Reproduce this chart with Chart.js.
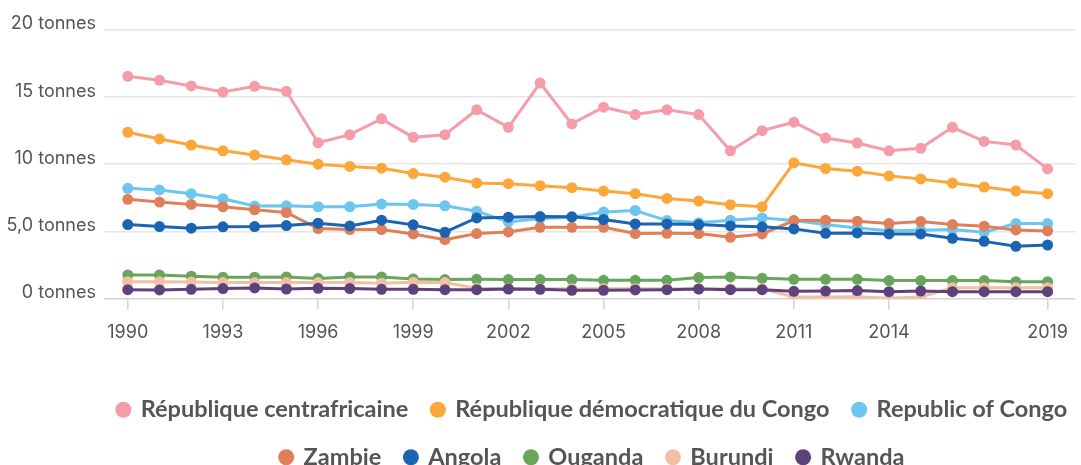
<!DOCTYPE html>
<html>
<head>
<meta charset="utf-8">
<script src="https://cdn.jsdelivr.net/npm/chart.js@4"></script>
<style>
  html, body { margin: 0; padding: 0; overflow: hidden; background: #fff; }
  #wrap { width: 1081px; height: 479px; }
</style>
</head>
<body>
<div id="wrap"><canvas id="chart"></canvas></div>
<script>
// years on the x axis
const years = [1990, 1991, 1992, 1993, 1994, 1995, 1996, 1997, 1998, 1999,
               2000, 2001, 2002, 2003, 2004, 2005, 2006, 2007, 2008, 2009,
               2010, 2011, 2012, 2013, 2014, 2015, 2016, 2017, 2018, 2019];
const xTickYears = [1990, 1993, 1996, 1999, 2002, 2005, 2008, 2011, 2014, 2019];
const yTickLabels = { 0: '0 tonnes', 5: '5,0 tonnes', 10: '10 tonnes', 15: '15 tonnes', 20: '20 tonnes' };

const countryNames = ['République centrafricaine', 'République démocratique du Congo', 'Republic of Congo',
                      'Zambie', 'Angola', 'Ouganda', 'Burundi', 'Rwanda'];
const countryColors = ['#F59CA9', '#FCA73B', '#6CC6F0', '#E0805A', '#1B63B3', '#69A55B', '#F1C0A4', '#5F427C'];

// tonnes per year
const centrafrique = [16.55, 16.25, 15.83, 15.38, 15.8, 15.43, 11.6, 12.2, 13.38, 12.0,
                      12.2, 14.05, 12.75, 16.05, 13.0, 14.25, 13.7, 14.05, 13.7, 11.0,
                      12.5, 13.13, 11.95, 11.58, 11.0, 11.18, 12.75, 11.7, 11.43, 9.65];
const rdc = [12.38, 11.88, 11.43, 11.0, 10.68, 10.33, 10.0, 9.83, 9.7, 9.3,
             9.03, 8.6, 8.55, 8.4, 8.25, 8.0, 7.8, 7.45, 7.25, 6.98,
             6.83, 10.1, 9.68, 9.48, 9.13, 8.9, 8.6, 8.3, 8.0, 7.8];
const congo = [8.2, 8.08, 7.8, 7.43, 6.88, 6.9, 6.83, 6.83, 7.03, 7.0,
               6.9, 6.5, 5.7, 5.95, 6.05, 6.43, 6.55, 5.8, 5.63, 5.83,
               6.0, 5.8, 5.5, 5.25, 5.05, 5.08, 5.13, 4.93, 5.58, 5.58];
const zambie = [7.38, 7.18, 7.0, 6.83, 6.6, 6.4, 5.2, 5.13, 5.13, 4.8,
                4.38, 4.83, 4.95, 5.3, 5.3, 5.3, 4.83, 4.85, 4.83, 4.55,
                4.8, 5.8, 5.83, 5.75, 5.58, 5.73, 5.5, 5.38, 5.1, 5.03];
const angola = [5.5, 5.35, 5.23, 5.33, 5.35, 5.43, 5.6, 5.4, 5.83, 5.48,
                4.93, 6.0, 6.05, 6.1, 6.08, 5.88, 5.55, 5.55, 5.5, 5.4,
                5.33, 5.18, 4.85, 4.88, 4.8, 4.8, 4.48, 4.25, 3.88, 3.98];
const ouganda = [1.75, 1.75, 1.65, 1.58, 1.58, 1.6, 1.48, 1.6, 1.6, 1.45,
                 1.4, 1.42, 1.4, 1.4, 1.4, 1.35, 1.35, 1.35, 1.55, 1.6,
                 1.5, 1.42, 1.42, 1.42, 1.33, 1.33, 1.33, 1.33, 1.25, 1.25];
const burundi = [1.25, 1.25, 1.22, 1.18, 1.18, 1.18, 1.18, 1.18, 1.13, 1.2,
                 1.18, 0.75, 0.72, 0.72, 0.72, 0.72, 0.72, 0.72, 0.72, 0.72,
                 0.72, 0.1, 0.1, 0.12, 0.02, 0.1, 0.8, 0.8, 0.8, 0.8];
const rwanda = [0.65, 0.63, 0.68, 0.73, 0.78, 0.7, 0.75, 0.73, 0.68, 0.68,
                0.65, 0.65, 0.7, 0.68, 0.6, 0.6, 0.63, 0.65, 0.7, 0.65,
                0.65, 0.53, 0.55, 0.58, 0.5, 0.55, 0.5, 0.5, 0.5, 0.5];

const allSeries = [centrafrique, rdc, congo, zambie, angola, ouganda, burundi, rwanda];

const datasets = allSeries.map((values, i) => ({
    label: countryNames[i],
    data: values.map((v, j) => ({ x: years[j], y: v })),
    borderColor: countryColors[i],
    backgroundColor: countryColors[i],
    pointBackgroundColor: countryColors[i],
    pointBorderWidth: 0,
    pointRadius: 5.5,
    borderWidth: 3,
    tension: 0,
    order: -i // later countries drawn on top
}));

// the legend sits a bit right of centre in the original
const legendShift = {
    id: 'legendShift',
    afterLayout(chart) {
        chart.legend.left += 52;
        chart.legend.right += 52;
    }
};

new Chart(document.getElementById('chart'), {
    type: 'line',
    data: { datasets },
    plugins: [legendShift],
    options: {
        responsive: true,
        maintainAspectRatio: false,
        animation: false,
        events: [],
        layout: { padding: { top: 30, right: 0, left: 0, bottom: 0 } },
        scales: {
            x: {
                type: 'linear',
                min: 1989.25,
                max: 2019.88,
                afterBuildTicks: (scale) => { scale.ticks = xTickYears.map(v => ({ value: v })); },
                afterFit: (scale) => { scale.height += 19; },
                border: { display: false },
                grid: { drawOnChartArea: false, drawTicks: true, tickLength: 11, color: '#d4d4d4', lineWidth: 1.5 },
                ticks: {
                    callback: (v) => String(v),
                    color: '#555',
                    padding: 12,
                    maxRotation: 0,
                    autoSkip: false,
                    font: { family: 'Inter', size: 18 }
                }
            },
            y: {
                min: 0,
                max: 20,
                afterFit: (scale) => { scale.width = 104; },
                border: { display: false },
                grid: { drawTicks: false, color: (c) => c.tick.value === 0 ? '#d4d4d4' : '#e6e6e6', lineWidth: 1.5 },
                ticks: {
                    stepSize: 5,
                    callback: (v) => yTickLabels[v],
                    color: '#555',
                    padding: 8,
                    labelOffset: -6,
                    font: { family: 'Inter', size: 18 }
                }
            }
        },
        plugins: {
            tooltip: { enabled: false },
            legend: {
                position: 'bottom',
                labels: {
                    usePointStyle: true,
                    pointStyle: 'circle',
                    boxWidth: 11.3,
                    boxHeight: 11.3,
                    padding: 24,
                    color: '#555',
                    font: { family: 'Lato', size: 23.5, weight: 'bold' },
                    sort: (a, b) => a.datasetIndex - b.datasetIndex
                }
            }
        }
    }
});
</script>
</body>
</html>
